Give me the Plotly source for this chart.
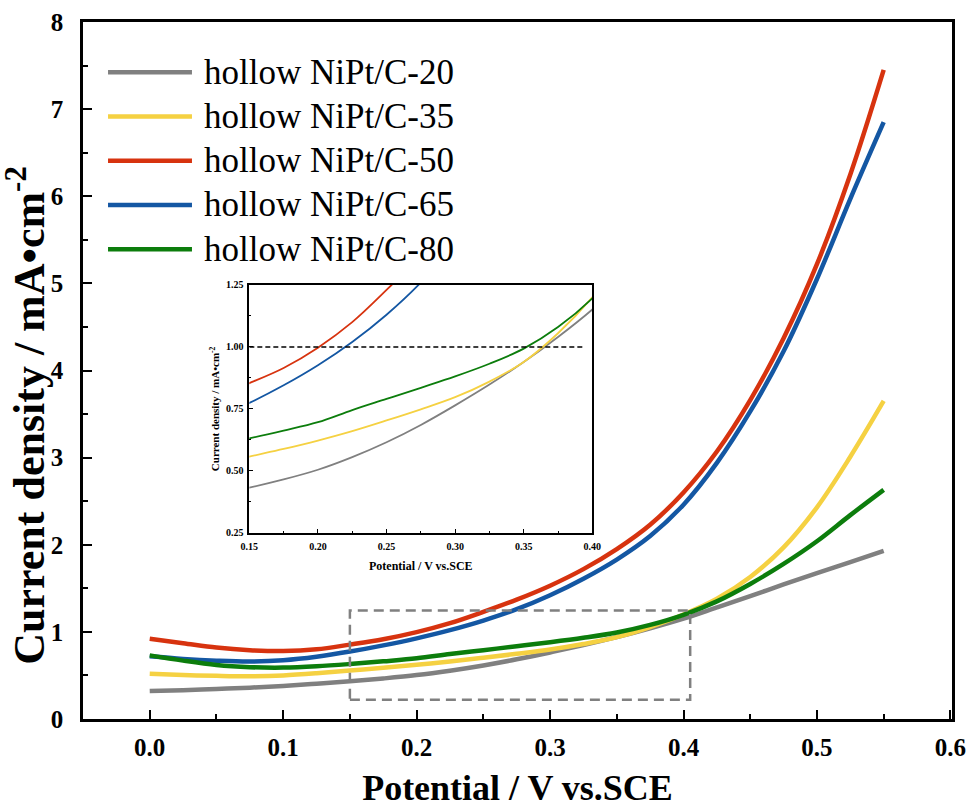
import plotly.graph_objects as go

# ---- data ----
potential = [0.0, 0.025, 0.05, 0.075, 0.1, 0.125, 0.15, 0.175, 0.2, 0.225, 0.25, 0.275,
             0.3, 0.325, 0.35, 0.375, 0.4, 0.425, 0.45, 0.475, 0.5, 0.525, 0.55]
c20 = [0.32, 0.33, 0.345, 0.36, 0.38, 0.405, 0.432, 0.465, 0.504, 0.555, 0.615, 0.685,
       0.764, 0.848, 0.939, 1.04, 1.151, 1.28, 1.41, 1.545, 1.675, 1.80, 1.93]
c35 = [0.52, 0.505, 0.495, 0.49, 0.50, 0.525, 0.557, 0.588, 0.622, 0.66, 0.703, 0.748,
       0.797, 0.86, 0.939, 1.055, 1.20, 1.38, 1.63, 1.97, 2.43, 3.01, 3.65]
c50 = [0.92, 0.87, 0.82, 0.79, 0.78, 0.80, 0.854, 0.915, 0.997, 1.10, 1.23, 1.37,
       1.53, 1.72, 1.95, 2.23, 2.60, 3.07, 3.66, 4.37, 5.22, 6.25, 7.45]
c65 = [0.72, 0.69, 0.67, 0.66, 0.675, 0.715, 0.774, 0.845, 0.926, 1.02, 1.13, 1.26,
       1.42, 1.61, 1.83, 2.10, 2.46, 2.94, 3.53, 4.22, 5.05, 5.97, 6.85]
c80 = [0.73, 0.67, 0.62, 0.595, 0.59, 0.605, 0.631, 0.662, 0.696, 0.745, 0.79, 0.835,
       0.881, 0.932, 0.993, 1.08, 1.196, 1.35, 1.55, 1.78, 2.04, 2.34, 2.63]

names = ["hollow NiPt/C-20", "hollow NiPt/C-35", "hollow NiPt/C-50",
         "hollow NiPt/C-65", "hollow NiPt/C-80"]
series = [c20, c35, c50, c65, c80]
colors = ["#808080", "#f5d142", "#d7330f", "#1457a3", "#0c7d0c"]

zoom_x = [0.15, 0.405]
zoom_y = [0.22, 1.245]
ref_level = 1.0
ref_x = [0.15, 0.393]

x_title = "Potential / V vs.SCE"
y_title = "Current density / mA•cm<sup>-2</sup>"

FONT = "Liberation Serif"

fig = go.Figure()
for nm, ys, col in zip(names, series, colors):
    fig.add_trace(go.Scatter(x=potential, y=ys, mode="lines", name=nm,
                             line=dict(color=col, width=4.5, shape="spline", smoothing=1.0),
                             showlegend=False, xaxis="x", yaxis="y"))
for nm, ys, col in zip(names, series, colors):
    fig.add_trace(go.Scatter(x=potential, y=ys, mode="lines", name=nm,
                             line=dict(color=col, width=1.8, shape="spline", smoothing=1.0),
                             showlegend=False, xaxis="x2", yaxis="y2"))

# zoom rectangle in main plot
fig.add_shape(type="rect", xref="x", yref="y", x0=zoom_x[0], x1=zoom_x[1],
              y0=zoom_y[0], y1=zoom_y[1],
              line=dict(color="#808080", width=2.5, dash="10px,6px"))
# reference line in inset
fig.add_shape(type="line", xref="x2", yref="y2", x0=ref_x[0], x1=ref_x[1],
              y0=ref_level, y1=ref_level,
              line=dict(color="black", width=1.5, dash="5px,3px"))

# manual legend
leg_top = 0.928
leg_step = 0.0635
for i, (nm, col) in enumerate(zip(names, colors)):
    yy = leg_top - i * leg_step
    fig.add_shape(type="line", xref="paper", yref="paper", x0=0.0288, x1=0.1254,
                  y0=yy, y1=yy, line=dict(color=col, width=4.5))
    fig.add_annotation(xref="paper", yref="paper", x=0.1366, y=yy, text=nm,
                       showarrow=False, xanchor="left", yanchor="middle",
                       font=dict(family=FONT, size=35, color="black"))

# main y-axis title (rotated annotation, offset like the reference)
fig.add_annotation(xref="paper", yref="paper", x=-0.066, y=0.436, text=y_title,
                   textangle=-90, showarrow=False, xanchor="center", yanchor="middle",
                   font=dict(family=FONT, size=44, weight="bold", color="black"))

axis_common = dict(showline=True, linecolor="black", mirror=True, showgrid=False,
                   zeroline=False, ticks="inside", tickcolor="black", automargin=False,
                   ticklabeloverflow="allow")

fig.update_layout(
    width=966, height=808,
    margin=dict(l=83, r=14, t=22, b=89),
    paper_bgcolor="white", plot_bgcolor="white",
    font=dict(family=FONT, color="black"),
    xaxis=dict(**axis_common, range=[-0.05, 0.6012], dtick=0.1, tick0=0, tickformat=".1f",
               linewidth=2.5, tickwidth=2, ticklen=9,
               minor=dict(dtick=0.05, ticks="inside", ticklen=5, tickwidth=2, tickcolor="black"),
               tickfont=dict(family=FONT, size=25, weight="bold"), ticklabelstandoff=4,
               title=dict(text=x_title, standoff=20,
                          font=dict(family=FONT, size=36, weight="bold")),
               domain=[0, 1]),
    yaxis=dict(**axis_common, range=[0, 8], dtick=1, tick0=0,
               linewidth=2.5, tickwidth=2, ticklen=9,
               minor=dict(dtick=0.5, ticks="inside", ticklen=5, tickwidth=2, tickcolor="black"),
               tickfont=dict(family=FONT, size=25, weight="bold"), ticklabelstandoff=12,
               domain=[0, 1]),
    xaxis2=dict(**axis_common, range=[0.15, 0.40], dtick=0.05, tick0=0.15, tickformat=".2f",
                linewidth=1.5, tickwidth=1.2, ticklen=4,
                minor=dict(dtick=0.025, ticks="inside", ticklen=2, tickwidth=1.2, tickcolor="black"),
                tickfont=dict(family=FONT, size=10, weight="bold"), ticklabelstandoff=4,
                title=dict(text=x_title, standoff=10,
                           font=dict(family=FONT, size=12, weight="bold")),
                domain=[0.1914, 0.5861], anchor="y2"),
    yaxis2=dict(**axis_common, range=[0.25, 1.25], dtick=0.25, tick0=0.25, tickformat=".2f",
                linewidth=1.5, tickwidth=1.2, ticklen=4,
                minor=dict(dtick=0.125, ticks="inside", ticklen=2, tickwidth=1.2, tickcolor="black"),
                tickfont=dict(family=FONT, size=10, weight="bold"), ticklabelstandoff=2,
                title=dict(text=y_title, standoff=4,
                           font=dict(family=FONT, size=11, weight="bold")),
                domain=[0.2673, 0.6227], anchor="x2"),
    showlegend=False,
)

fig.write_html("out.html")
